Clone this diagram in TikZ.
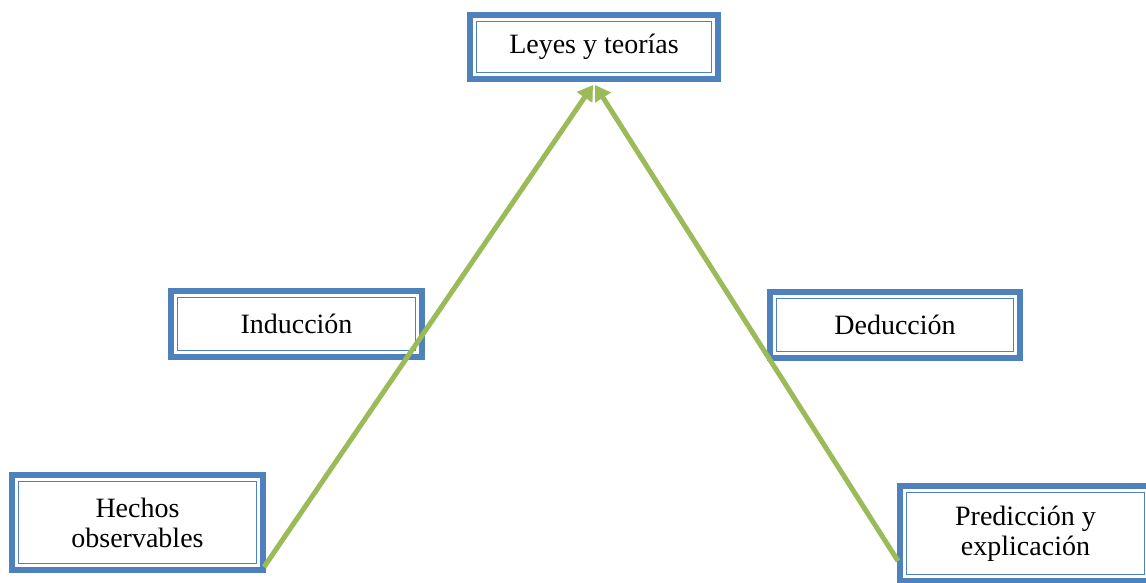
\documentclass[tikz,border=0pt]{standalone}
\usepackage{fontspec}
\setmainfont{Liberation Serif}
\usetikzlibrary{arrows.meta}
\definecolor{boxblue}{HTML}{4F81BD}
\definecolor{arrgreen}{HTML}{9BBB59}
\tikzset{
  dbox/.style={draw=boxblue, line width=6pt, fill=white, align=center,
    font=\fontsize{28pt}{30pt}\selectfont, inner sep=0pt,
    path picture={\draw[boxblue, line width=1.6pt]
      ([shift={(6.5pt,-6.5pt)}]path picture bounding box.north west) rectangle
      ([shift={(-6.5pt,6.5pt)}]path picture bounding box.south east);}},
  arr/.style={arrgreen, line width=5pt, -{Triangle[length=15pt,width=18pt]}}
}
\begin{document}
\begin{tikzpicture}[x=1pt,y=1pt]
\useasboundingbox (0,0) rectangle (1146,582);
\node[dbox, minimum width=248pt, minimum height=64pt] (leyes) at (594,535) {Leyes y teorías};
\node[dbox, minimum width=251pt, minimum height=66pt] (ind) at (296.5,258) {Inducción};
\node[dbox, minimum width=250pt, minimum height=66pt] (ded) at (895,257) {Deducción};
\node[dbox, minimum width=251pt, minimum height=95pt] (hechos) at (137.5,59.5) {Hechos\\observables};
\node[dbox, minimum width=251pt, minimum height=95pt] (pred) at (1025.5,48.5) {Predicción y\\explicación};
\draw[arr] ([shift={(-2pt,6pt)}]hechos.south east) -- ([shift={(-1pt,-3pt)}]leyes.south);
\draw[arr] ([shift={(1pt,23pt)}]pred.south west) -- ([shift={(1pt,-3pt)}]leyes.south);
\end{tikzpicture}
\end{document}
